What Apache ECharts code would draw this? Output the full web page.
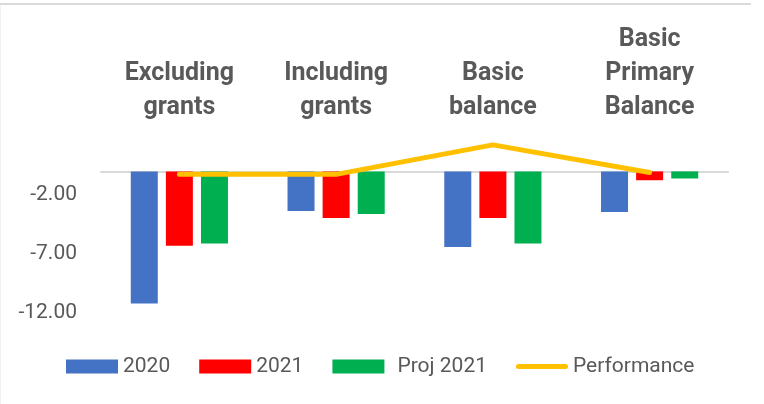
<!DOCTYPE html>
<html>
<head>
<meta charset="utf-8">
<style>
  html, body { margin: 0; padding: 0; background: #ffffff; }
  #chart { width: 764px; height: 404px; }
</style>
<script src="https://cdn.jsdelivr.net/npm/echarts@6/dist/echarts.min.js"></script>
</head>
<body>
<div id="chart"></div>
<script>
// Fiscal balance categories (x axis, shown above the zero line)
const categories = ['Excluding\ngrants', 'Including\ngrants', 'Basic\nbalance', 'Basic\nPrimary\nBalance'];

// Balances in % of GDP
const values2020 = [-11.2, -3.35, -6.4, -3.45];
const values2021 = [-6.3, -3.95, -3.95, -0.75];
const valuesProj2021 = [-6.1, -3.6, -6.1, -0.6];
const performance = [-0.25, -0.25, 2.25, -0.1];

// Value axis ticks
const yMin = -12;
const yMax = 3;
const yStep = 5;

const textColor = '#595959';
const font = 'Roboto';

const chart = echarts.init(document.getElementById('chart'), null, { renderer: 'canvas' });

const barSeries = (name, data, color) => ({
  name: name,
  type: 'bar',
  data: data,
  barWidth: 27,
  barGap: '30%',
  itemStyle: { color: color },
  emphasis: { disabled: true }
});

chart.setOption({
  animation: false,
  backgroundColor: '#ffffff',
  graphic: [
    // chart-area frame (top and left edges)
    { type: 'line', shape: { x1: 0, y1: 4, x2: 751, y2: 4 }, style: { stroke: '#d9d9d9', lineWidth: 2 } },
    { type: 'line', shape: { x1: 0.5, y1: 5, x2: 0.5, y2: 404 }, style: { stroke: '#f2f2f2', lineWidth: 1 } }
  ],
  grid: { left: 101, right: 36, top: 136, bottom: 91, containLabel: false, outerBoundsMode: 'none' },
  xAxis: {
    type: 'category',
    position: 'top',
    data: categories,
    axisLine: { onZero: true, lineStyle: { color: '#d9d9d9', width: 2 } },
    axisTick: { show: false },
    axisLabel: {
      color: textColor,
      fontFamily: font,
      fontWeight: 'bold',
      fontSize: 25,
      lineHeight: 34,
      margin: 11,
      interval: 0
    }
  },
  yAxis: {
    type: 'value',
    min: yMin,
    max: yMax,
    interval: yStep,
    axisLine: { show: false },
    axisTick: { show: false },
    splitLine: { show: false },
    axisLabel: {
      color: textColor,
      fontFamily: font,
      fontSize: 21,
      margin: 24,
      formatter: v => (v < 0 ? v.toFixed(2) : '')
    }
  },
  legend: {
    left: 61,
    top: 351,
    itemWidth: 52,
    itemHeight: 14,
    itemGap: 29,
    textStyle: { color: textColor, fontFamily: font, fontSize: 21 },
    data: [
      { name: '2020', icon: 'rect' },
      { name: '2021', icon: 'rect' },
      { name: 'Proj 2021', icon: 'rect', textStyle: { padding: [0, 0, 0, 8] } },
      { name: 'Performance', icon: 'path://M2.5,0h47a2.5,2.5 0 0 1 0,5h-47a2.5,2.5 0 0 1 0,-5z' }
    ]
  },
  series: [
    barSeries('2020', values2020, '#4472C4'),
    barSeries('2021', values2021, '#FF0000'),
    barSeries('Proj 2021', valuesProj2021, '#00B050'),
    {
      name: 'Performance',
      type: 'line',
      data: performance,
      symbol: 'none',
      itemStyle: { color: '#FFC000' },
      lineStyle: { color: '#FFC000', width: 5, cap: 'round', join: 'round' },
      emphasis: { disabled: true },
      z: 5
    }
  ]
});
</script>
</body>
</html>
